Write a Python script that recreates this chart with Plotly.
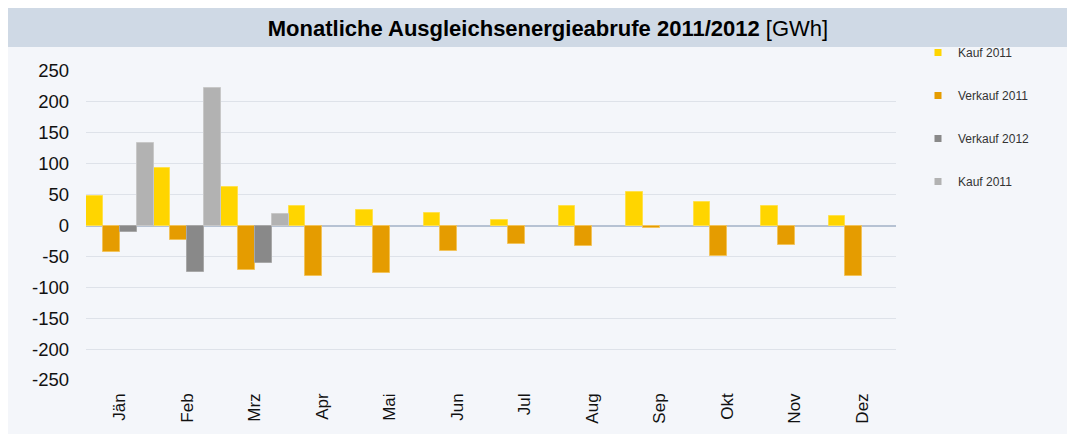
import plotly.graph_objects as go

months = ["Jän", "Feb", "Mrz", "Apr", "Mai", "Jun", "Jul", "Aug", "Sep", "Okt", "Nov", "Dez"]
kauf_2011 = [47, 93, 63, 31, 25, 20, 9, 32, 55, 38, 31, 16]
verkauf_2011 = [-43, -24, -72, -82, -77, -42, -30, -33, -4, -50, -31, -82]
verkauf_2012 = [-10, -76, -61, None, None, None, None, None, None, None, None, None]
kauf_2012 = [134, 223, 18, None, None, None, None, None, None, None, None, None]

series_names = ["Kauf 2011", "Verkauf 2011", "Verkauf 2012", "Kauf 2011"]
series_values = [kauf_2011, verkauf_2011, verkauf_2012, kauf_2012]
colors = ["#FFD500", "#E59C00", "#898989", "#B2B2B2"]
edge_colors = ["#FFE14D", "#F2C35A", "#A8A8A8", "#C8C8C8"]

ytick_vals = [250, 200, 150, 100, 50, 0, -50, -100, -150, -200, -250]
ytick_text = ["250", "200", "150", "100", "50", "0", "-50", "-100", "-150", "-200", "-250"]

fig = go.Figure()
for i, (name, vals) in enumerate(zip(series_names, series_values)):
    fig.add_trace(go.Bar(
        x=months, y=vals, name=name,
        marker=dict(color=colors[i], line=dict(color=edge_colors[i], width=1)),
        legendgroup=f"g{i}", showlegend=False,
    ))
    # legend entry with a small square key, as in the original chart
    fig.add_trace(go.Scatter(
        x=[None], y=[None], mode="markers", name=name,
        marker=dict(symbol="square", size=7, color=colors[i]),
        legendgroup=f"g{i}", showlegend=True, hoverinfo="skip",
    ))

# page has an 8px body margin, so the figure is drawn 8px in from the top-left
W, H = 1067, 426
L, R, T, B = 78, 179, 63, 54
pw, ph = W - L - R, H - T - B

def px_x(x):
    return (x - L) / pw

def px_y(y):
    return (H - B - y) / ph

shapes = [
    dict(type="rect", xref="paper", yref="paper", layer="below",
         x0=px_x(-2), x1=px_x(W + 5), y0=px_y(H + 5), y1=px_y(-2),
         fillcolor="#F4F6FA", line=dict(width=0)),
    dict(type="rect", xref="paper", yref="paper", layer="below",
         x0=px_x(0), x1=px_x(W + 5), y0=px_y(39), y1=px_y(-1),
         fillcolor="#CFD9E5", line=dict(width=0)),
]

fig.update_layout(
    width=W, height=H,
    margin=dict(l=L, r=R, t=T, b=B, autoexpand=False),
    paper_bgcolor="#FFFFFF",
    plot_bgcolor="#F4F6FA",
    barmode="group", bargap=0, bargroupgap=0,
    font=dict(family="Liberation Sans, Arial, sans-serif", color="#111111"),
    title=dict(
        text="<b>Monatliche Ausgleichsenergieabrufe 2011/2012</b> [GWh]",
        font=dict(size=22, color="#000000"),
        x=540 / W, xanchor="center", xref="container",
        y=1 - 20 / H, yanchor="middle", yref="container",
    ),
    shapes=shapes,
    legend=dict(
        x=px_x(910), xanchor="left", y=px_y(30), yanchor="top",
        font=dict(size=12, color="#333333"),
        bgcolor="rgba(0,0,0,0)", tracegroupgap=24,
        itemwidth=30,
    ),
    xaxis=dict(
        tickangle=-90, tickfont=dict(size=17, color="#111111"),
        showgrid=False, showline=False, ticks="",
        ticklabelstandoff=9, automargin=False,
    ),
    yaxis=dict(
        range=[-250, 250], tickvals=ytick_vals, ticktext=ytick_text,
        tickfont=dict(size=18.5, color="#111111"),
        showgrid=True, gridcolor="#DEE2E9", gridwidth=1,
        zeroline=True, zerolinecolor="#B6C2D3", zerolinewidth=1.5,
        showline=False, ticks="", ticklabelstandoff=16, automargin=False,
    ),
    showlegend=True,
)

fig.write_html("out.html")
